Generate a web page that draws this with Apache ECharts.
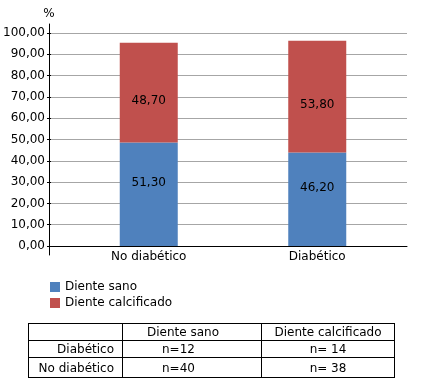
<!DOCTYPE html>
<html>
<head>
<meta charset="utf-8">
<script src="https://cdn.jsdelivr.net/npm/echarts@6/dist/echarts.min.js"></script>
<style>
  html, body { margin: 0; padding: 0; background: #fff; }
  #wrap { position: relative; width: 427px; height: 386px; }
  #chart { position: absolute; left: 0; top: 0; width: 427px; height: 386px; }
  #tbl { position: absolute; left: 28px; top: 323px; border-collapse: collapse; table-layout: fixed;
         width: 366px;
         font-family: "DejaVu Sans", Verdana, sans-serif; font-size: 12px; color: #000; }
  #tbl td { border: 1px solid #000; padding: 0; white-space: nowrap; line-height: 14px;
            box-sizing: border-box; }
</style>
</head>
<body>
<div id="wrap">
  <div id="chart"></div>
  <table id="tbl"></table>
</div>
<script>
// Categories
const categories = ['No diabético', 'Diabético'];
// Series names
const seriesNames = ['Diente sano', 'Diente calcificado'];
// Bar heights as drawn in the picture (%)
const sanoValues = [48.6, 43.9];
const calcValues = [46.8, 52.5];
// Labels printed on the bars
const sanoLabels = ['51,30', '46,20'];
const calcLabels = ['48,70', '53,80'];
// Y tick range
const yMin = 0, yMax = 100, yStep = 10;
// Table contents
const tableHeader = ['', 'Diente sano', 'Diente calcificado'];
const tableRowNames = ['Diabético', 'No diabético'];
const tableSano = ['n=12', 'n=40'];
const tableCalc = ['n= 14', 'n= 38'];

const FONT = '"DejaVu Sans", Verdana, sans-serif';
const chart = echarts.init(document.getElementById('chart'), null, { renderer: 'canvas' });

const fmt = v => v.toFixed(2).replace('.', ',');

chart.setOption({
  animation: false,
  textStyle: { fontFamily: FONT },
  color: ['#4f81bd', '#c0504d'],
  legend: {
    orient: 'vertical', left: 45, top: 276,
    itemWidth: 10, itemHeight: 10, itemGap: 4, icon: 'rect',
    textStyle: { fontSize: 12, color: '#000', fontFamily: FONT },
    data: seriesNames
  },
  grid: [
    { left: 49, right: 20, top: 33, height: 213 },
    { left: 64.5, right: 25.5, top: 33, height: 213 },
    { left: 49, width: 10, top: 24, bottom: 131 }
  ],
  xAxis: [
    { gridIndex: 0, type: 'category', data: categories,
      axisLine: { lineStyle: { color: '#000', width: 1 } },
      axisTick: { show: false }, axisLabel: { show: false } },
    { gridIndex: 1, type: 'category', data: categories,
      axisLine: { show: false }, axisTick: { show: false },
      axisLabel: { color: '#000', fontSize: 12, margin: 5, fontFamily: FONT } },
    { gridIndex: 2, type: 'value', show: false }
  ],
  yAxis: [
    { gridIndex: 0, type: 'value', min: yMin, max: yMax, interval: yStep,
      axisLine: { show: false },
      axisTick: { show: true, length: 4, lineStyle: { color: '#000' } },
      axisLabel: { color: '#000', fontSize: 12, margin: 6, formatter: fmt, fontFamily: FONT },
      splitLine: { lineStyle: { color: '#a6a6a6', width: 1 } } },
    { gridIndex: 1, type: 'value', min: yMin, max: yMax, show: false },
    { gridIndex: 2, type: 'value', min: 0, max: 1,
      name: '%', nameLocation: 'end', nameGap: 4,
      nameTextStyle: { color: '#000', fontSize: 12, fontFamily: FONT },
      axisLine: { show: true, lineStyle: { color: '#000', width: 1 } },
      axisTick: { show: false }, axisLabel: { show: false }, splitLine: { show: false } }
  ],
  series: [
    { name: seriesNames[0], type: 'bar', stack: 's', xAxisIndex: 1, yAxisIndex: 1,
      barWidth: 58, data: sanoValues,
      label: { show: true, position: 'inside', offset: [0, -11], color: '#000', fontSize: 12,
               fontFamily: FONT, formatter: p => sanoLabels[p.dataIndex] } },
    { name: seriesNames[1], type: 'bar', stack: 's', xAxisIndex: 1, yAxisIndex: 1,
      barWidth: 58, data: calcValues,
      label: { show: true, position: 'inside', offset: [0, 8], color: '#000', fontSize: 12,
               fontFamily: FONT, formatter: p => calcLabels[p.dataIndex] } }
  ]
});

// Build the table below the chart
const tbl = document.getElementById('tbl');
const colW = [94, 139, 133];
function row(cells, h, styles) {
  const tr = document.createElement('tr');
  cells.forEach((c, i) => {
    const td = document.createElement('td');
    td.textContent = c;
    td.style.width = colW[i] + 'px';
    td.style.height = h + 'px';
    Object.assign(td.style, styles[i] || {});
    tr.appendChild(td);
  });
  tbl.appendChild(tr);
}
row(tableHeader, 17, [{}, { paddingLeft: '24px' }, { textAlign: 'center' }]);
const rowH = [17, 20];
tableRowNames.forEach((n, i) => {
  row([n, tableSano[i], tableCalc[i]], rowH[i],
      [{ textAlign: 'right', paddingRight: '8px' }, { paddingLeft: '39px' }, { textAlign: 'center' }]);
});
</script>
</body>
</html>
